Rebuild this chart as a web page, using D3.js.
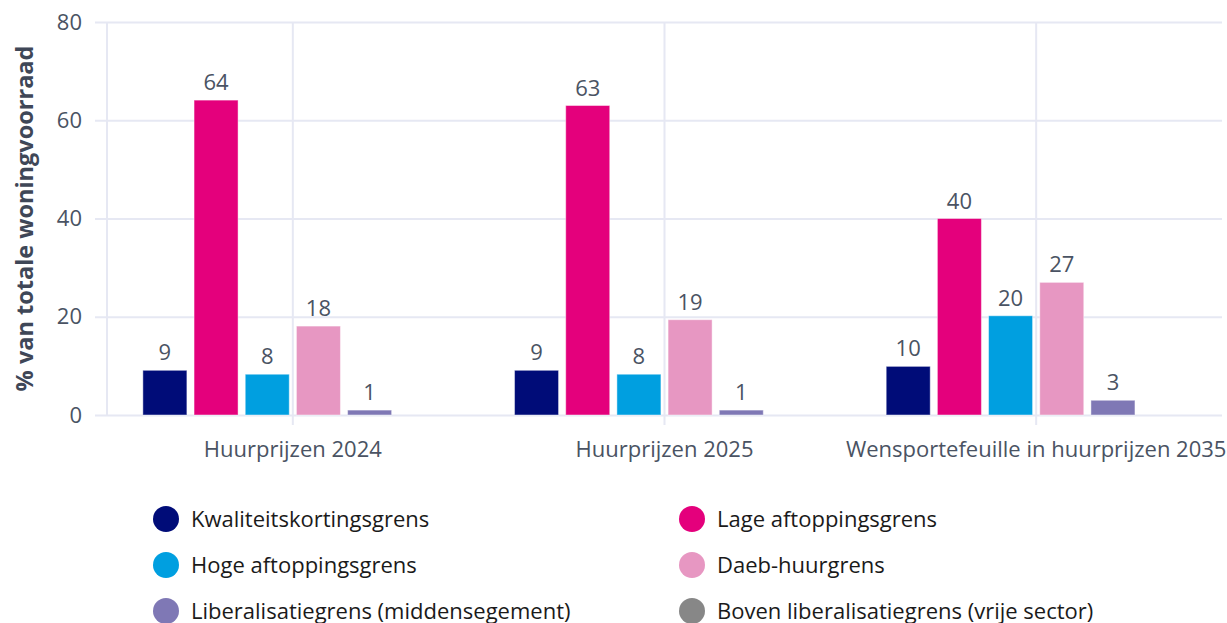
<!DOCTYPE html>
<html>
<head>
<meta charset="utf-8">
<script src="https://cdn.jsdelivr.net/npm/d3@7"></script>
<style>
  body { margin: 0; background: #fff; }
  svg, svg text { font-family: "Open Sans", sans-serif; }
</style>
</head>
<body>
<div id="container"></div>
<script>
// data
const categories = ['Huurprijzen 2024', 'Huurprijzen 2025', 'Wensportefeuille in huurprijzen 2035']
const seriesNames = ['Kwaliteitskortingsgrens', 'Lage aftoppingsgrens', 'Hoge aftoppingsgrens',
    'Daeb-huurgrens', 'Liberalisatiegrens (middensegement)', 'Boven liberalisatiegrens (vrije sector)']
const seriesColors = ['#000c78', '#e4007c', '#009fe0', '#e797c2', '#7f78b5', '#878787']
const kwaliteit = [9.1, 9.1, 9.9]
const lage = [64.1, 63.0, 40.0]
const hoge = [8.3, 8.3, 20.2]
const daeb = [18.1, 19.4, 27.0]
const liberalisatie = [1.0, 1.0, 3.0]
const boven = [0, 0, 0]
const yTicks = [0, 20, 40, 60, 80]

const values = [kwaliteit, lage, hoge, daeb, liberalisatie, boven]

const width = 1227
const height = 623
const margin = { top: 22, right: 5, bottom: 208, left: 107 }
const fontSize = '22px'

const svg = d3.select('#container').append('svg')
    .attr('width', width).attr('height', height)

const x0 = d3.scaleBand().domain(categories)
    .range([margin.left, width - margin.right])

const side = x0.bandwidth() * 0.0965
const x1 = d3.scaleBand().domain(d3.range(seriesNames.length))
    .range([side, x0.bandwidth() - side])
    .paddingInner(0.14)

const y = d3.scaleLinear().domain([0, 80])
    .range([height - margin.bottom, margin.top])

const gridColor = '#e6e8f3'
const tickColor = '#4a5363'

// horizontal grid + y ticks
const yAxis = d3.axisLeft(y).tickValues(yTicks)
    .tickSize(width - margin.right - margin.left + 12)
    .tickPadding(13)

svg.append('g').attr('id', 'y-axis')
    .attr('transform', `translate(${width - margin.right}, 0)`)
    .call(yAxis)
    .attr('font-family', null).attr('font-size', null)
    .call(g => g.select('.domain').remove())
    .call(g => g.selectAll('.tick line').attr('stroke', gridColor).attr('stroke-width', 2))
    .call(g => g.selectAll('.tick text').attr('fill', tickColor).style('font-size', fontSize))

// vertical lines at category centres
const xAxis = d3.axisBottom(x0).tickSize(y(0) - margin.top + 10).tickPadding(16)
svg.append('g').attr('id', 'x-axis')
    .attr('transform', `translate(0, ${margin.top})`)
    .call(xAxis)
    .attr('font-family', null).attr('font-size', null)
    .call(g => g.select('.domain').remove())
    .call(g => g.selectAll('.tick line').attr('stroke', gridColor).attr('stroke-width', 2))
    .call(g => g.selectAll('.tick text').attr('fill', tickColor).style('font-size', fontSize))

// left edge line
svg.append('line')
    .attr('x1', margin.left).attr('x2', margin.left)
    .attr('y1', margin.top).attr('y2', y(0))
    .attr('stroke', gridColor).attr('stroke-width', 2)

// y title
svg.append('text')
    .attr('transform', `translate(33, ${(margin.top + y(0)) / 2}) rotate(-90)`)
    .attr('text-anchor', 'middle')
    .attr('fill', '#3f4757')
    .style('font-size', '23.5px')
    .style('font-weight', 'bold')
    .text('% van totale woningvoorraad')

// bars
const groups = svg.append('g').selectAll('g')
    .data(categories)
    .enter().append('g')
    .attr('transform', d => `translate(${x0(d)}, 0)`)

groups.selectAll('rect')
    .data((d, ci) => values.map((v, si) => ({ si, v: v[ci] })).filter(d => d.v > 0))
    .enter().append('rect')
    .attr('x', d => x1(d.si))
    .attr('y', d => y(d.v))
    .attr('width', x1.bandwidth())
    .attr('height', d => y(0) - y(d.v))
    .attr('fill', d => seriesColors[d.si])
    .attr('stroke', 'rgba(255,255,255,0.45)')
    .attr('stroke-width', 1)

groups.selectAll('text')
    .data((d, ci) => values.map((v, si) => ({ si, v: v[ci] })).filter(d => d.v > 0))
    .enter().append('text')
    .attr('x', d => x1(d.si) + x1.bandwidth() / 2)
    .attr('y', d => y(d.v) - 10)
    .attr('text-anchor', 'middle')
    .attr('fill', tickColor)
    .style('font-size', fontSize)
    .text(d => d3.format('.0f')(d.v))

// legend
const legendCols = [166, 692]
const legendRows = [519, 565, 611]
const legend = svg.append('g').attr('id', 'legend')
    .selectAll('g')
    .data(seriesNames)
    .enter().append('g')
    .attr('transform', (d, i) => `translate(${legendCols[i % 2]}, ${legendRows[Math.floor(i / 2)]})`)

legend.append('circle')
    .attr('r', 13)
    .attr('fill', (d, i) => seriesColors[i])

legend.append('text')
    .attr('x', 25)
    .attr('dy', '0.35em')
    .attr('fill', '#1a1a1a')
    .style('font-size', fontSize)
    .text(d => d)
</script>
</body>
</html>
